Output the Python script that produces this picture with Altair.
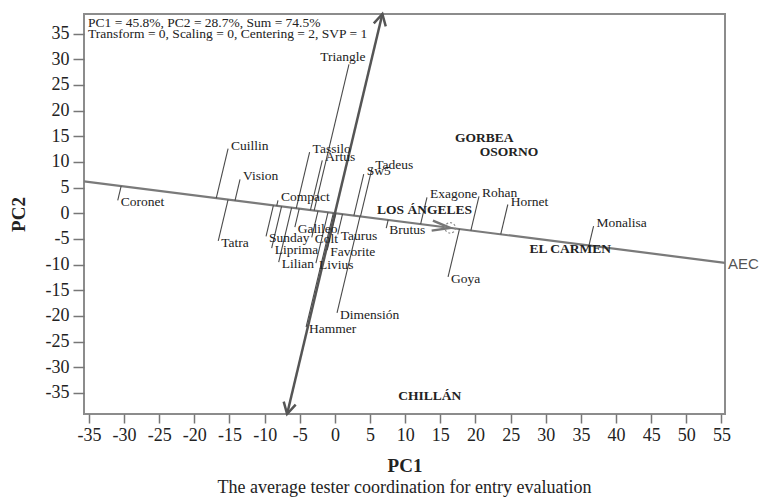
import math
import altair as alt
import pandas as pd

# ---------------- data ----------------
genotypes = ["Triangle", "Cuillin", "Vision", "Tatra", "Coronet", "Compact", "Tassilo",
             "Artus", "Galileo", "Sunday", "Colt", "Taurus", "Liprima", "Favorite",
             "Lilian", "Livius", "Hammer", "Dimensión", "Tadeus", "Sw5", "Exagone",
             "Rohan", "Hornet", "Brutus", "Goya", "Monalisa"]
gen_pc1 = [2.0, -15.2, -13.5, -16.6, -30.9, -8.1, -3.6, -1.8, -5.7, -9.8, -3.3, 0.4, -9.0,
           -1.1, -8.0, -2.7, -4.1, 0.3, 5.3, 4.1, 13.1, 20.5, 24.6, 7.3, 16.1, 36.8]
gen_pc2 = [29.0, 12.6, 6.6, -5.4, 2.5, 2.5, 11.9, 10.3, -2.7, -4.5, -4.7, -4.1, -6.8,
           -7.2, -9.5, -9.7, -22.2, -19.4, 8.9, 7.6, 3.1, 3.3, 1.7, -2.9, -12.4, -2.5]

environments = ["GORBEA", "OSORNO", "LOS ÁNGELES", "EL CARMEN", "CHILLÁN"]
env_pc1 = [17.1, 20.6, 6.0, 27.7, 9.0]
env_pc2 = [14.6, 11.9, 0.6, -7.0, -35.6]

aec_slope = -0.174          # average environment axis (through origin)
avg_env_pc1 = 16.4          # position of the average environment (arrow tip)

x_ticks = list(range(-35, 56, 5))
y_ticks = list(range(-35, 36, 5))
x_domain = [-35.7, 55.5]
y_domain = [-39.1, 38.8]

info_line1 = "PC1 = 45.8%, PC2 = 28.7%, Sum = 74.5%"
info_line2 = "Transform = 0, Scaling = 0, Centering = 2, SVP = 1"
caption = "The average tester coordination for entry evaluation"

# ---------------- layout ----------------
W, H = 641, 400
SERIF = "Liberation Serif"
px_x = W / (x_domain[1] - x_domain[0])
px_y = H / (y_domain[1] - y_domain[0])

# ---------------- derived tables (all use columns x, y) ----------------
s = aec_slope
gen = pd.DataFrame({"name": genotypes, "x": gen_pc1, "y": gen_pc2})
t = (gen["x"] + s * gen["y"]) / (1 + s * s)
gen["x2"] = t
gen["y2"] = s * t
gen["above"] = gen["y"] > s * gen["x"]

env = pd.DataFrame({"name": environments, "x": env_pc1, "y": env_pc2})

aec = pd.DataFrame({"x": [x_domain[0]], "y": [s * x_domain[0]],
                    "x2": [x_domain[1]], "y2": [s * x_domain[1]]})
atc = pd.DataFrame({"x": [-s * y_domain[1]], "y": [y_domain[1]],
                    "x2": [-s * y_domain[0]], "y2": [y_domain[0]]})


def ang(dx, dy):
    a = math.degrees(math.atan2(-dy * px_y, dx * px_x))
    return a % 360


atc_heads = pd.DataFrame({
    "x": [-s * y_domain[1], -s * y_domain[0]],
    "y": [y_domain[1], y_domain[0]],
    "angle": [ang(-s * y_domain[1], y_domain[1]), ang(-s * y_domain[0], y_domain[0])],
})
avg = pd.DataFrame({"x": [avg_env_pc1], "y": [s * avg_env_pc1],
                    "angle": [ang(1, s)]})
aec_lab = pd.DataFrame({"x": [x_domain[1]], "y": [s * x_domain[1]], "name": ["AEC"]})

xs = alt.Scale(domain=x_domain, nice=False, zero=False)
ys = alt.Scale(domain=y_domain, nice=False, zero=False)

axis_common = dict(labelOverlap=False, labelFlush=False,
                   labelExpr="toString(datum.value)", domain=False, grid=False)
X = alt.X("x:Q", scale=xs,
          axis=alt.Axis(values=x_ticks, tickCount=len(x_ticks), title="PC1", **axis_common))
Y = alt.Y("y:Q", scale=ys,
          axis=alt.Axis(values=y_ticks, tickCount=len(y_ticks), title="PC2", **axis_common))

aec_line = alt.Chart(aec).mark_rule(color="#7a7a7a", strokeWidth=2.2).encode(
    x=X, y=Y, x2="x2:Q", y2="y2:Q")
atc_line = alt.Chart(atc).mark_rule(color="#555555", strokeWidth=2.5).encode(
    x=X, y=Y, x2="x2:Q", y2="y2:Q")

proj = alt.Chart(gen).mark_rule(color="#4a4a4a", strokeWidth=1.1).encode(
    x=X, y=Y, x2="x2:Q", y2="y2:Q")

heads = alt.Chart(atc_heads).mark_point(
    shape="M -1 -0.55 L 0 0 L -1 0.55", filled=False, color="#555555",
    strokeWidth=2.5, size=500, opacity=1).encode(
    x=X, y=Y, angle=alt.Angle("angle:Q", scale=None))

avg_head = alt.Chart(avg).mark_point(
    shape="M -1 -0.28 L 0 0 L -1 0.28", filled=False, color="#777777",
    strokeWidth=2.5, size=1300, opacity=1).encode(
    x=X, y=Y, angle=alt.Angle("angle:Q", scale=None))
avg_circle = alt.Chart(avg).mark_point(
    shape="circle", filled=False, color="#888888", strokeDash=[2, 2],
    strokeWidth=1.2, size=110, opacity=1).encode(x=X, y=Y)

txt = dict(font=SERIF, fontSize=13.5, color="#222222", align="left",
           baseline="middle", dx=3)
lab_above = alt.Chart(gen).transform_filter(
    "datum.above && datum.name != 'Triangle'").mark_text(dy=-3, **txt).encode(
    x=X, y=Y, text="name:N")
lab_below = alt.Chart(gen).transform_filter("!datum.above").mark_text(
    dy=2, **txt).encode(x=X, y=Y, text="name:N")
lab_tri = alt.Chart(gen).transform_filter("datum.name == 'Triangle'").mark_text(
    font=SERIF, fontSize=13.5, color="#222222", align="center", baseline="middle",
    dx=-6, dy=-7).encode(x=X, y=Y, text="name:N")

env_lab = alt.Chart(env).mark_text(
    font=SERIF, fontSize=13.5, fontWeight="bold", color="#222222", align="left",
    baseline="middle").encode(x=X, y=Y, text="name:N")

aec_text = alt.Chart(aec_lab).mark_text(
    font="Liberation Sans", fontSize=15, color="#555555", align="left",
    baseline="middle", dx=3, dy=1).encode(x=X, y=Y, text="name:N")

info1 = alt.Chart(pd.DataFrame({"t": [info_line1]})).mark_text(
    font=SERIF, fontSize=13.5, color="#222222", align="left", baseline="middle").encode(
    x=alt.value(4), y=alt.value(9), text="t:N")
info2 = alt.Chart(pd.DataFrame({"t": [info_line2]})).mark_text(
    font=SERIF, fontSize=13.5, color="#222222", align="left", baseline="middle").encode(
    x=alt.value(4), y=alt.value(19.5), text="t:N")

chart = alt.layer(
    aec_line, atc_line, proj, heads, avg_head, avg_circle,
    lab_above, lab_below, lab_tri, env_lab, aec_text, info1, info2
).properties(
    width=W, height=H,
    autosize=alt.AutoSizeParams(type="none"),
    padding={"left": 84, "top": 14, "right": 35, "bottom": 85},
    title=alt.TitleParams(caption, orient="bottom", anchor="middle", font=SERIF,
                          fontSize=18, fontWeight="normal", color="#222222", offset=4),
).configure_view(
    stroke="#8c8c8c", strokeWidth=2
).configure_axis(
    labelFont=SERIF, labelFontSize=18, labelColor="#222222",
    tickColor="#777777", tickWidth=1.5, titleFont=SERIF, titleFontSize=19,
    titleFontWeight="bold", titleColor="#222222"
).configure_axisX(
    tickSize=9, labelPadding=3, titleY=51, titleBaseline="middle"
).configure_axisY(
    tickSize=11, labelPadding=4, titleX=-66, titleY=200, titleAngle=270,
    titleBaseline="middle", titleAlign="center"
)

chart.save("out.html", embed_options={"renderer": "svg", "actions": False})
